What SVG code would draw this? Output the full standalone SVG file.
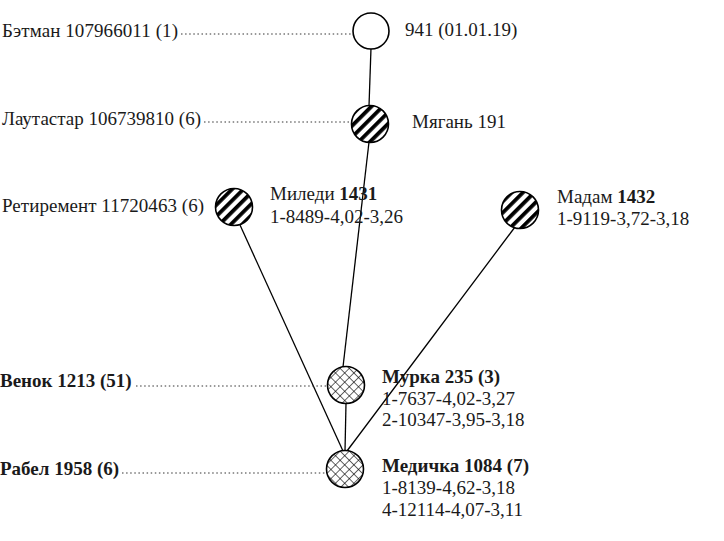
<svg xmlns="http://www.w3.org/2000/svg" width="724" height="541" viewBox="0 0 724 541">
<style>
text{font-family:"Liberation Serif","Times New Roman",serif;font-size:19px;fill:#1a1a1a}
.b{font-weight:bold}
.edge{stroke:#000;stroke-width:1.3;fill:none}
.dot{stroke:#333;stroke-width:1;stroke-dasharray:1.5 2.6;fill:none}
.node{stroke:#000;stroke-width:1.6}
</style>
<defs>
<pattern id="stripe" patternUnits="userSpaceOnUse" width="8" height="8" patternTransform="rotate(45)">
<rect width="8" height="8" fill="#fff"/>
<rect x="0" y="0" width="3.8" height="8" fill="#000"/>
</pattern>
<pattern id="cross" patternUnits="userSpaceOnUse" width="6.5" height="6.5" patternTransform="rotate(45)">
<rect width="6.5" height="6.5" fill="#fff"/>
<line x1="0" y1="0" x2="0" y2="6.5" stroke="#000" stroke-width="1.2"/>
<line x1="0" y1="0" x2="6.5" y2="0" stroke="#000" stroke-width="1.2"/>
</pattern>
</defs>
<rect width="724" height="541" fill="#fff"/>
<g id="connectors">
<line class="edge" x1="371" y1="48" x2="369" y2="106"/>
<line class="edge" x1="369" y1="142" x2="343" y2="367"/>
<line class="edge" x1="240" y1="225" x2="343" y2="451"/>
<line class="edge" x1="515" y1="227" x2="347" y2="451"/>
<line class="edge" x1="346" y1="403" x2="345" y2="451"/>
<line class="dot" x1="181" y1="34" x2="351" y2="34"/>
<line class="dot" x1="204" y1="122" x2="350" y2="122"/>
<line class="dot" x1="136" y1="386" x2="327" y2="386"/>
<line class="dot" x1="122" y1="473" x2="325" y2="473"/>
</g>
<g id="n941">
<circle class="node" cx="371" cy="31" r="18" fill="#fff"/>
<text x="2" y="37" textLength="176">Бэтман 107966011 (1)</text>
<text x="405" y="36">941 (01.01.19)</text>
</g>
<g id="n191">
<circle class="node" cx="370" cy="124" r="18.5" fill="url(#stripe)"/>
<text x="2" y="125" textLength="199">Лаутастар 106739810 (6)</text>
<text x="412" y="128">Мягань 191</text>
</g>
<g id="n1431">
<circle class="node" cx="234" cy="207" r="18.5" fill="url(#stripe)"/>
<text x="2" y="212" textLength="202">Ретиремент 11720463 (6)</text>
<text x="270" y="200">Миледи <tspan class="b">1431</tspan></text>
<text x="270" y="223">1-8489-4,02-3,26</text>
</g>
<g id="n1432">
<circle class="node" cx="520" cy="210" r="18.5" fill="url(#stripe)"/>
<text x="557" y="203">Мадам <tspan class="b">1432</tspan></text>
<text x="557" y="225">1-9119-3,72-3,18</text>
</g>
<g id="n235">
<circle class="node" cx="346" cy="385" r="18.5" fill="url(#cross)"/>
<text class="b" x="0" y="387">Венок 1213 (51)</text>
<text class="b" x="382" y="383">Мурка 235 (3)</text>
<text x="382" y="405">1-7637-4,02-3,27</text>
<text x="382" y="426">2-10347-3,95-3,18</text>
</g>
<g id="n1084">
<circle class="node" cx="345" cy="469" r="18.5" fill="url(#cross)"/>
<text class="b" x="0" y="475">Рабел 1958 (6)</text>
<text class="b" x="382" y="472">Медичка 1084 (7)</text>
<text x="382" y="494">1-8139-4,62-3,18</text>
<text x="382" y="516">4-12114-4,07-3,11</text>
</g>
</svg>
